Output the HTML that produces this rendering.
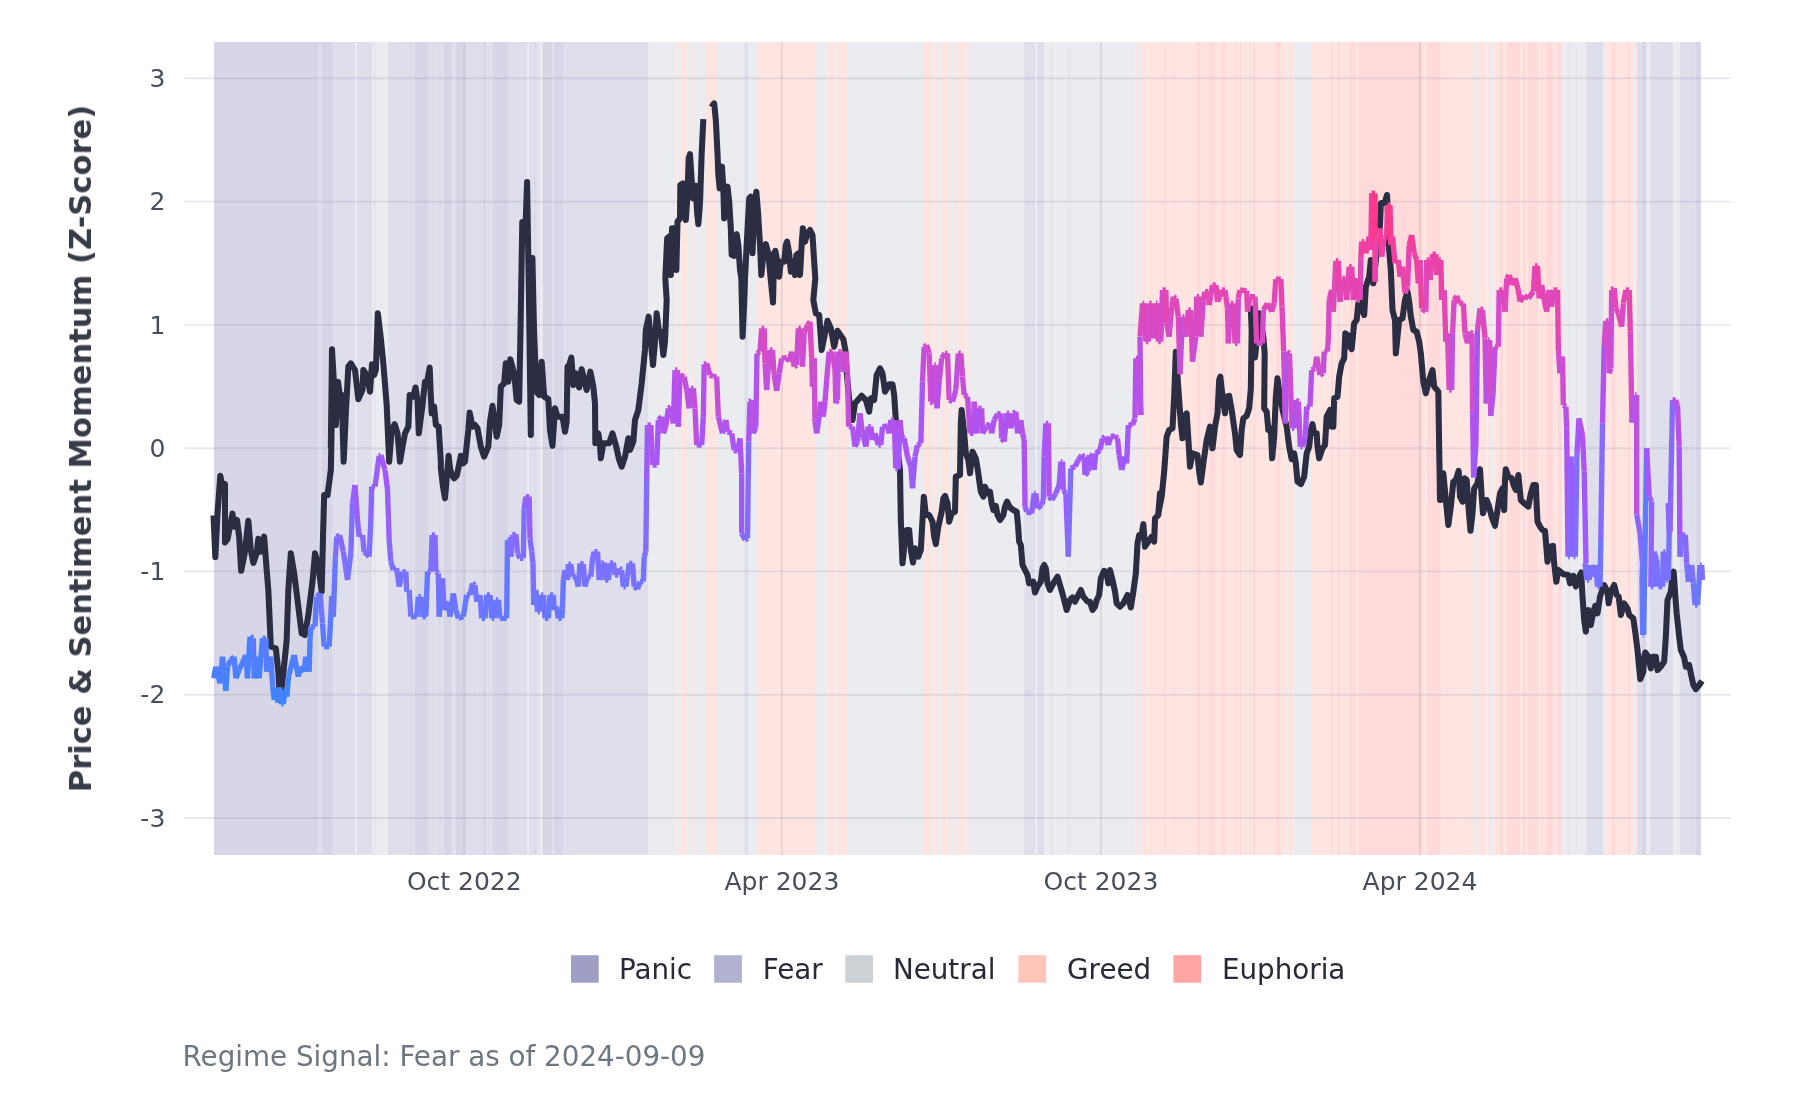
<!DOCTYPE html>
<html><head><meta charset="utf-8"><title>Regime Signal</title>
<style>html,body{margin:0;padding:0;background:#fff}svg{display:block}text{font-family:"DejaVu Sans","Liberation Sans",sans-serif}</style></head><body>
<svg width="1800" height="1100" viewBox="0 0 1800 1100">
<rect width="1800" height="1100" fill="#ffffff"/>
<g>
<rect x="214" y="42" width="104" height="813" fill="#d7d6e6"/>
<rect x="318" y="42" width="4" height="813" fill="#dfdfec"/>
<rect x="322" y="42" width="10" height="813" fill="#d7d6e6"/>
<rect x="332" y="42" width="1.33" height="813" fill="#dfdfec"/>
<rect x="333.33" y="42" width="2" height="813" fill="#d7d6e6"/>
<rect x="335.33" y="42" width="19.67" height="813" fill="#dfdfec"/>
<rect x="355" y="42" width="1.67" height="813" fill="#ebecef"/>
<rect x="356.67" y="42" width="15.33" height="813" fill="#dfdfec"/>
<rect x="372" y="42" width="2" height="813" fill="#ebecef"/>
<rect x="374" y="42" width="1.67" height="813" fill="#dfdfec"/>
<rect x="375.67" y="42" width="12.33" height="813" fill="#ebecef"/>
<rect x="388" y="42" width="23" height="813" fill="#dfdfec"/>
<rect x="411" y="42" width="1.67" height="813" fill="#d7d6e6"/>
<rect x="412.67" y="42" width="2.33" height="813" fill="#dfdfec"/>
<rect x="415" y="42" width="13" height="813" fill="#d7d6e6"/>
<rect x="428" y="42" width="10.67" height="813" fill="#dfdfec"/>
<rect x="438.67" y="42" width="2.17" height="813" fill="#d7d6e6"/>
<rect x="440.83" y="42" width="2.5" height="813" fill="#dfdfec"/>
<rect x="443.33" y="42" width="9.17" height="813" fill="#d7d6e6"/>
<rect x="452.5" y="42" width="3.33" height="813" fill="#dfdfec"/>
<rect x="455.83" y="42" width="8.17" height="813" fill="#d7d6e6"/>
<rect x="464" y="42" width="6" height="813" fill="#dfdfec"/>
<rect x="470" y="42" width="1.67" height="813" fill="#d7d6e6"/>
<rect x="471.67" y="42" width="2.5" height="813" fill="#dfdfec"/>
<rect x="474.17" y="42" width="1.67" height="813" fill="#d7d6e6"/>
<rect x="475.83" y="42" width="3.33" height="813" fill="#dfdfec"/>
<rect x="479.17" y="42" width="1.67" height="813" fill="#d7d6e6"/>
<rect x="480.83" y="42" width="2" height="813" fill="#dfdfec"/>
<rect x="482.83" y="42" width="1.33" height="813" fill="#d7d6e6"/>
<rect x="484.17" y="42" width="-0.83" height="813" fill="#dfdfec"/>
<rect x="483.33" y="42" width="3.33" height="813" fill="#d7d6e6"/>
<rect x="486.67" y="42" width="6.33" height="813" fill="#dfdfec"/>
<rect x="493" y="42" width="15" height="813" fill="#d7d6e6"/>
<rect x="508" y="42" width="19" height="813" fill="#dfdfec"/>
<rect x="527" y="42" width="1.67" height="813" fill="#ebecef"/>
<rect x="528.67" y="42" width="5" height="813" fill="#dfdfec"/>
<rect x="533.67" y="42" width="2.17" height="813" fill="#d7d6e6"/>
<rect x="535.83" y="42" width="1.67" height="813" fill="#dfdfec"/>
<rect x="537.5" y="42" width="1" height="813" fill="#d7d6e6"/>
<rect x="538.5" y="42" width="1.83" height="813" fill="#dfdfec"/>
<rect x="540.33" y="42" width="2.17" height="813" fill="#ebecef"/>
<rect x="542.5" y="42" width="9.5" height="813" fill="#d7d6e6"/>
<rect x="552" y="42" width="1.67" height="813" fill="#dfdfec"/>
<rect x="553.67" y="42" width="10.17" height="813" fill="#d7d6e6"/>
<rect x="563.83" y="42" width="84.17" height="813" fill="#dfdfec"/>
<rect x="648" y="42" width="27.83" height="813" fill="#ebecef"/>
<rect x="675.83" y="42" width="1.67" height="813" fill="#ffe5e2"/>
<rect x="677.5" y="42" width="3.33" height="813" fill="#ebecef"/>
<rect x="680.83" y="42" width="7.17" height="813" fill="#ffe5e2"/>
<rect x="688" y="42" width="3" height="813" fill="#ebecef"/>
<rect x="691" y="42" width="2" height="813" fill="#ffe5e2"/>
<rect x="693" y="42" width="12" height="813" fill="#ebecef"/>
<rect x="705" y="42" width="13" height="813" fill="#ffe5e2"/>
<rect x="718" y="42" width="26.17" height="813" fill="#ebecef"/>
<rect x="744.17" y="42" width="4.5" height="813" fill="#dfdfec"/>
<rect x="748.67" y="42" width="9.33" height="813" fill="#ebecef"/>
<rect x="758" y="42" width="57" height="813" fill="#ffe5e2"/>
<rect x="815" y="42" width="11.67" height="813" fill="#ebecef"/>
<rect x="826.67" y="42" width="9.17" height="813" fill="#ffe5e2"/>
<rect x="835.83" y="42" width="2.17" height="813" fill="#ebecef"/>
<rect x="838" y="42" width="10" height="813" fill="#ffe5e2"/>
<rect x="848" y="42" width="75" height="813" fill="#ebecef"/>
<rect x="923" y="42" width="9" height="813" fill="#ffe5e2"/>
<rect x="932" y="42" width="2.17" height="813" fill="#ebecef"/>
<rect x="934.17" y="42" width="2.83" height="813" fill="#ffe5e2"/>
<rect x="937" y="42" width="3.83" height="813" fill="#ebecef"/>
<rect x="940.83" y="42" width="8.33" height="813" fill="#ffe5e2"/>
<rect x="949.17" y="42" width="4.17" height="813" fill="#ebecef"/>
<rect x="953.33" y="42" width="1.67" height="813" fill="#ffe5e2"/>
<rect x="955" y="42" width="3" height="813" fill="#ebecef"/>
<rect x="958" y="42" width="7.33" height="813" fill="#ffe5e2"/>
<rect x="965.33" y="42" width="1.67" height="813" fill="#ebecef"/>
<rect x="967" y="42" width="2" height="813" fill="#ffe5e2"/>
<rect x="969" y="42" width="55.17" height="813" fill="#ebecef"/>
<rect x="1024.17" y="42" width="10.83" height="813" fill="#dfdfec"/>
<rect x="1035" y="42" width="2.17" height="813" fill="#ebecef"/>
<rect x="1037.17" y="42" width="7.5" height="813" fill="#dfdfec"/>
<rect x="1044.67" y="42" width="6" height="813" fill="#ebecef"/>
<rect x="1050.67" y="42" width="1.33" height="813" fill="#dfdfec"/>
<rect x="1052" y="42" width="16.5" height="813" fill="#ebecef"/>
<rect x="1068.5" y="42" width="1.33" height="813" fill="#dfdfec"/>
<rect x="1069.83" y="42" width="66" height="813" fill="#ebecef"/>
<rect x="1135.83" y="42" width="2.17" height="813" fill="#ffe5e2"/>
<rect x="1138" y="42" width="3" height="813" fill="#ebecef"/>
<rect x="1141" y="42" width="23.17" height="813" fill="#ffe5e2"/>
<rect x="1164.17" y="42" width="1.83" height="813" fill="#ffdadb"/>
<rect x="1166" y="42" width="7.83" height="813" fill="#ffe5e2"/>
<rect x="1173.83" y="42" width="1.5" height="813" fill="#ffdadb"/>
<rect x="1175.33" y="42" width="21.67" height="813" fill="#ffe5e2"/>
<rect x="1197" y="42" width="3.83" height="813" fill="#ffdadb"/>
<rect x="1200.83" y="42" width="5" height="813" fill="#ffe5e2"/>
<rect x="1205.83" y="42" width="1.17" height="813" fill="#ffdadb"/>
<rect x="1207" y="42" width="1.33" height="813" fill="#ffe5e2"/>
<rect x="1208.33" y="42" width="7.5" height="813" fill="#ffdadb"/>
<rect x="1215.83" y="42" width="6.17" height="813" fill="#ffe5e2"/>
<rect x="1222" y="42" width="4.67" height="813" fill="#ffdadb"/>
<rect x="1226.67" y="42" width="8.33" height="813" fill="#ffe5e2"/>
<rect x="1235" y="42" width="2.5" height="813" fill="#ffdadb"/>
<rect x="1237.5" y="42" width="2.5" height="813" fill="#ffe5e2"/>
<rect x="1240" y="42" width="2.5" height="813" fill="#ffdadb"/>
<rect x="1242.5" y="42" width="2.17" height="813" fill="#ffe5e2"/>
<rect x="1244.67" y="42" width="2" height="813" fill="#ffdadb"/>
<rect x="1246.67" y="42" width="2" height="813" fill="#ffe5e2"/>
<rect x="1248.67" y="42" width="2.17" height="813" fill="#ffdadb"/>
<rect x="1250.83" y="42" width="2.17" height="813" fill="#ffe5e2"/>
<rect x="1253" y="42" width="2.83" height="813" fill="#ffdadb"/>
<rect x="1255.83" y="42" width="20" height="813" fill="#ffe5e2"/>
<rect x="1275.83" y="42" width="5" height="813" fill="#ffdadb"/>
<rect x="1280.83" y="42" width="5" height="813" fill="#ffe5e2"/>
<rect x="1285.83" y="42" width="2.17" height="813" fill="#ebecef"/>
<rect x="1288" y="42" width="5.33" height="813" fill="#ffe5e2"/>
<rect x="1293.33" y="42" width="18.67" height="813" fill="#ebecef"/>
<rect x="1312" y="42" width="18.83" height="813" fill="#ffe5e2"/>
<rect x="1330.83" y="42" width="2.5" height="813" fill="#ffdadb"/>
<rect x="1333.33" y="42" width="3.33" height="813" fill="#ffe5e2"/>
<rect x="1336.67" y="42" width="3.33" height="813" fill="#ffdadb"/>
<rect x="1340" y="42" width="5" height="813" fill="#ffe5e2"/>
<rect x="1345" y="42" width="1.67" height="813" fill="#ffdadb"/>
<rect x="1346.67" y="42" width="2.5" height="813" fill="#ffe5e2"/>
<rect x="1349.17" y="42" width="6.67" height="813" fill="#ffdadb"/>
<rect x="1355.83" y="42" width="2.5" height="813" fill="#ffe5e2"/>
<rect x="1358.33" y="42" width="65" height="813" fill="#ffdadb"/>
<rect x="1423.33" y="42" width="3.33" height="813" fill="#ffe5e2"/>
<rect x="1426.67" y="42" width="14.17" height="813" fill="#ffdadb"/>
<rect x="1440.83" y="42" width="16.67" height="813" fill="#ffe5e2"/>
<rect x="1457.5" y="42" width="1.17" height="813" fill="#ffdadb"/>
<rect x="1458.67" y="42" width="14.33" height="813" fill="#ffe5e2"/>
<rect x="1473" y="42" width="5" height="813" fill="#ebecef"/>
<rect x="1478" y="42" width="8.67" height="813" fill="#ffe5e2"/>
<rect x="1486.67" y="42" width="0.83" height="813" fill="#ebecef"/>
<rect x="1487.5" y="42" width="2.5" height="813" fill="#ffe5e2"/>
<rect x="1490" y="42" width="3.67" height="813" fill="#ebecef"/>
<rect x="1493.67" y="42" width="6.33" height="813" fill="#ffe5e2"/>
<rect x="1500" y="42" width="3.33" height="813" fill="#ffdadb"/>
<rect x="1503.33" y="42" width="3.67" height="813" fill="#ffe5e2"/>
<rect x="1507" y="42" width="13" height="813" fill="#ffdadb"/>
<rect x="1520" y="42" width="3" height="813" fill="#ffe5e2"/>
<rect x="1523" y="42" width="3.67" height="813" fill="#ffdadb"/>
<rect x="1526.67" y="42" width="1.33" height="813" fill="#ffe5e2"/>
<rect x="1528" y="42" width="10.67" height="813" fill="#ffdadb"/>
<rect x="1538.67" y="42" width="2.67" height="813" fill="#ffe5e2"/>
<rect x="1541.33" y="42" width="2.33" height="813" fill="#ffdadb"/>
<rect x="1543.67" y="42" width="2.17" height="813" fill="#ffe5e2"/>
<rect x="1545.83" y="42" width="7.5" height="813" fill="#ffdadb"/>
<rect x="1553.33" y="42" width="4.17" height="813" fill="#ffe5e2"/>
<rect x="1557.5" y="42" width="5" height="813" fill="#ffdadb"/>
<rect x="1562.5" y="42" width="6.33" height="813" fill="#ebecef"/>
<rect x="1568.83" y="42" width="1.33" height="813" fill="#dfdfec"/>
<rect x="1570.17" y="42" width="5.33" height="813" fill="#ebecef"/>
<rect x="1575.5" y="42" width="1.33" height="813" fill="#dfdfec"/>
<rect x="1576.83" y="42" width="9.33" height="813" fill="#ebecef"/>
<rect x="1586.17" y="42" width="16.83" height="813" fill="#dfdfec"/>
<rect x="1603" y="42" width="2" height="813" fill="#ebecef"/>
<rect x="1605" y="42" width="6.33" height="813" fill="#ffe5e2"/>
<rect x="1611.33" y="42" width="4.5" height="813" fill="#ffdadb"/>
<rect x="1615.83" y="42" width="12.17" height="813" fill="#ffe5e2"/>
<rect x="1628" y="42" width="2" height="813" fill="#ffdadb"/>
<rect x="1630" y="42" width="3" height="813" fill="#ffe5e2"/>
<rect x="1633" y="42" width="2" height="813" fill="#ebecef"/>
<rect x="1635" y="42" width="2" height="813" fill="#ffe5e2"/>
<rect x="1637" y="42" width="4.67" height="813" fill="#dfdfec"/>
<rect x="1641.67" y="42" width="5" height="813" fill="#d7d6e6"/>
<rect x="1646.67" y="42" width="3" height="813" fill="#ebecef"/>
<rect x="1649.67" y="42" width="23.33" height="813" fill="#dfdfec"/>
<rect x="1673" y="42" width="7" height="813" fill="#ebecef"/>
<rect x="1680" y="42" width="15.83" height="813" fill="#dfdfec"/>
<rect x="1695.83" y="42" width="5" height="813" fill="#d7d6e6"/>
</g>
<g stroke="#717c92" stroke-opacity="0.165" stroke-width="1.9">
<line x1="184.2" x2="1730.8" y1="78.3" y2="78.3"/>
<line x1="184.2" x2="1730.8" y1="201.6" y2="201.6"/>
<line x1="184.2" x2="1730.8" y1="324.9" y2="324.9"/>
<line x1="184.2" x2="1730.8" y1="448.2" y2="448.2"/>
<line x1="184.2" x2="1730.8" y1="571.4" y2="571.4"/>
<line x1="184.2" x2="1730.8" y1="694.7" y2="694.7"/>
<line x1="184.2" x2="1730.8" y1="818" y2="818"/>
<line x1="464.5" x2="464.5" y1="42" y2="855"/>
<line x1="781.9" x2="781.9" y1="42" y2="855"/>
<line x1="1100.9" x2="1100.9" y1="42" y2="855"/>
<line x1="1420" x2="1420" y1="42" y2="855"/>
</g>
<polyline fill="none" stroke="#2b2d42" stroke-width="6.05" stroke-linejoin="round" stroke-linecap="butt" points="213.5,515.33 215.33,557 217.5,513.33 220.33,475.83 222.5,486.67 225,484.17 225,542.5 227.5,539.17 232.5,513.67 234.17,526.67 237,520 239.17,536.67 241.17,570.83 244.67,553.33 248.33,520.83 250.83,550 253.33,563 256.67,553.33 258.33,538.67 260.83,551.67 264.17,536.67 266.67,570 268.33,590 270.83,646.67 275.83,648.33 278.33,671.67 280,700 283.33,673.33 286.67,640 288.33,590 290.83,553.33 294.17,573.33 298.33,606.67 301.67,633.33 305,635 308.33,615 312.5,581.67 315,553.33 318.33,565 321.67,591.67 323,536.67 324.17,495 327.5,495 330.83,470 331.67,425 330.83,446.67 332,349.17 334.17,386.67 335.83,425 338,381.67 340,396.67 341.67,395 343.67,461.67 345.83,413.33 348.33,366.67 350.83,363.33 355,370 358.33,399.17 362.5,390 363.33,370 366.67,375 370,391.67 372,364.17 374.17,375 375.83,370 377.83,313.33 380.83,338.33 383.33,363.33 386.67,405 389.17,461.67 391.67,430 394.67,424.17 397.5,433.33 400,461.67 402.5,446.67 405,433.33 408.33,426.67 409.67,395 413.33,396.67 415.5,387.5 417.5,400 418.83,433.33 422.5,405 425,381.67 427.5,380 429.67,367.5 430.83,396.67 431.67,413.33 434.17,406.67 435.83,425 438.67,426.67 440.83,461.67 440.83,468.33 443,486.67 445,498.33 446.67,478.33 448.67,455.83 450,468.33 451.67,475 454.17,478.33 456.67,475.83 458.67,466.67 460.83,455.83 463,463.33 465,461.67 466.67,445 468.33,430 469.67,412.5 472.5,426.67 475,425 477.5,428.33 480.83,446.67 484.17,456.67 488.33,446.67 490,421.67 492.5,405.83 495,423.33 496.67,436.67 499.17,425 500.83,386.67 504.17,383.33 505.83,363.33 508.33,381.67 510.33,359.17 514.17,373.33 516.67,400 519.17,401.67 520.5,330 522.3,222 525.6,224 527.1,182 529,300 530.8,435 532.4,258 534,330 536.5,392 539.17,395 541.67,361.67 544.17,396.67 548.33,399.17 550,430 552.5,445.83 555,408.33 557.5,416.67 562.5,416.67 565,431.67 566.67,421.67 567.5,366.67 569.17,365 571.33,357.5 573.33,385 575.83,373.33 579.17,387.5 581.67,369.17 586.67,390 590.33,371.67 593.33,386.67 595,403.33 595.33,443.33 598.33,433.33 600,445 600.83,458.33 603.33,443.33 609.17,443.33 612.5,433.33 615.83,445 619.17,460 621.67,466.67 625,456.67 628.33,438.33 630,450 633.33,441.67 635,420 638.33,410 641.67,383.33 645,350 645.83,330 648.67,316.67 650.83,341.67 653,365 655,341.67 656.67,313.33 659.17,333.33 660.83,331.67 663.33,355 665,341.67 666.67,300 665.33,278.33 667.17,238.33 669.17,236.67 670.83,275 672,228.33 674.67,228.33 676.33,270 677.5,221.67 680,218.33 680.33,185 683,183.33 685.83,220 687.5,195 688.67,158.33 690,154.17 692,185 693.33,198.33 695.83,185.83 697,211.67 698.33,224.17 700,203.33 701.67,153.33 703.33,119.17"/>
<polyline fill="none" stroke="#2b2d42" stroke-width="6.05" stroke-linejoin="round" stroke-linecap="butt" points="711.33,107 714.17,103.33 715.83,120 717.5,153.33 718.33,175 719.67,188.33 720.83,168.33 722,166.67 723.33,188.33 724.17,218.33 725.83,188.33 727.5,186.67 729.17,201.67 730.83,228.33 731.67,255 734.17,255.83 735,236.67 736.67,234.17 738.33,245 740,270 741.33,278.33 741.8,300 742.6,336.7 744.3,300 745,278.33 746.67,245 749.17,198.33 750.83,196.67 752.5,253.33 754.17,211.67 756.33,191.67 758,211.67 760,245 761.33,275 763.33,255 765.83,244.17 768.33,253.33 770,271.67 773,302.5 774.17,253.33 775.33,250.83 777.5,261.67 779.17,276.67 780.83,261.67 784.17,261.67 785.83,245 787.17,241.67 789.17,253.33 790.83,271.67 793.33,261.67 795,275 796.33,255 798.33,253.33 800,275 801.67,245 802.83,228.33 805,241.67 807.5,233.33 810,230 812.5,235 814.17,261.67 815.33,278.33 813.33,300 815.83,313.33 819.17,315 821.67,350 825,333.33 827.5,320.83 830.83,328.33 834.17,346.67 837.5,330.83 843.33,339.17 845.33,350 846.67,371.67 849.17,400 852.5,420 855,403.33 861.67,395.83 865.83,400 869.17,411.67 870.83,398.33 874.17,400 876.67,375 880,368.33 882.5,373.33 885,391.67 889.17,384.17 892.5,384.17 894.17,395 895.83,420 898.33,456.67 900,470 900.83,520 902.5,563.33 905,540 906.67,530 909.17,530 910.83,550 913,562.5 915,548.33 918.33,556.67 920.83,550 922.5,520 923.83,496.67 925.83,515 929.17,515 932.5,521.67 934.17,536.67 935.83,544.17 938.33,526.67 941.67,511.67 943.33,498.33 945,495.83 947.5,503.33 949.17,521.67 951.67,513.33 955,511.67 955.83,476.67 960,475 960.83,423.33 961.67,410 964.17,433.33 965.83,453.33 968.33,460 970,473.33 972.5,451.67 975.83,458.33 978.33,473.33 979.17,480 980.83,491.67 983.33,496.67 985,486.67 987.5,493.33 990,491.67 991.67,503.33 993.33,510 995.83,505.83 997.5,515 1000,520 1003.33,515 1005,506.67 1007,501.67 1010,507.5 1013.33,510 1016.67,511.67 1018,525 1019.17,541.67 1020.83,545 1022.5,565 1025,570 1027.5,575 1029.17,583.33 1033.33,581.67 1035,592.5 1037.5,586.67 1040.83,581.67 1042.5,568.33 1044.17,565 1045.83,568.33 1047.5,583.33 1050,590 1053.33,583.33 1057.5,576.67 1060,585 1063.33,596.67 1066.67,610 1070,600 1072.5,597.5 1075,601.67 1077.5,596.67 1080.83,590 1083.33,596.67 1087.5,601.67 1090,601.67 1092.5,610 1095,606.67 1096.67,600 1099.17,595 1100.83,578.33 1104.17,570.83 1106.67,573.33 1108.33,583.33 1110,570 1112.5,580 1115,591.67 1116.67,603.33 1120,606.67 1123.33,603.33 1127.5,595 1130.83,607.5 1133.33,591.67 1135.83,573.33 1137.5,543.33 1139.17,535 1141.67,535 1143.33,524.17 1145,546.67 1148.33,541.67 1151.67,536.67 1154.17,541.67 1155,518.33 1158.33,515 1160,493.33 1158.33,513.33 1161.67,496.67 1164.17,471.67 1166.67,436.67 1169.17,430 1172.5,428.33 1174.17,396.67 1175.83,351.67 1178.33,388.33 1180.83,423.33 1182.5,438.33 1184.17,416.67 1186.67,413.33 1188.33,438.33 1190,466.67 1192.5,453.33 1197.5,455 1199.17,471.67 1200.83,482.5 1203.33,463.33 1206.67,440 1210,426.67 1212.5,448.33 1215,426.67 1217.5,413.33 1219.17,380 1220.33,376.67 1222.5,396.67 1225,413.33 1226.67,396.67 1229.17,395.83 1231.67,410 1235,433.33 1236.67,450 1240,455 1241.67,430 1243.33,418.33 1246.67,415.83 1249.17,408.33 1250.83,388.33 1251.67,330 1250.83,308.33 1253,336.67 1255,357.5 1257.5,333.33 1259.17,313.33 1263.33,336.67 1264.67,353.33 1264.17,408.33 1266.67,411.67 1268.33,430 1270.83,428.33 1272.17,458.33 1274.17,436.67 1275.83,396.67 1277.5,378.33 1280,396.67 1283.33,413.33 1286.67,426.67 1289.17,446.67 1291.67,459.17 1294.17,453.33 1295.83,463.33 1297.5,481.67 1300.83,484.17 1304.17,476.67 1306.67,453.33 1309.17,446.67 1310.83,430 1312.5,424.17 1314.17,433.33 1316.67,433.33 1317.5,446.67 1319.17,458.33 1322.5,448.33 1325,445 1326.67,416.67 1330,410 1331.67,426.67 1333.33,426.67 1334.17,398.33 1337.5,396.67 1339.17,376.67 1341.67,363.33 1344.17,358.33 1345.33,333.33 1347.5,335 1349.17,345 1351.67,349.17 1354.17,323.33 1356.67,320 1358.33,303.33 1360,301.67 1364.17,315 1365.83,286.67 1369.17,276.67 1370.83,260 1373.33,283.33 1376.67,253.33 1380,225 1380.83,203.33 1385,201.67 1387,195 1388.33,220 1389.17,250 1390.83,270 1392.5,310 1395,320 1395.83,353.33 1399.17,320 1402.5,318.33 1405,300 1407.5,291.67 1409.17,301.67 1410.83,316.67 1413.33,330 1416.67,331.67 1419.17,341.67 1420.83,353.33 1423.33,381.67 1425.83,393.33 1429.17,380 1432.5,370 1434.17,386.67 1438.33,391.67 1439.17,446.67 1440,500 1440.83,500 1443.33,473.33 1445.83,500 1448.33,525 1450.83,506.67 1453.33,481.67 1455.83,480 1458.67,470.83 1460,496.67 1462.5,501.67 1464.67,478.33 1466.67,480 1468.33,505 1470.5,530.83 1472.5,513.33 1474.17,488.33 1477.5,483.33 1480,469.17 1481.67,496.67 1483,513.33 1486.67,500 1489.17,506.67 1491.67,516.67 1495,525.83 1497.5,510 1500,493.33 1502.5,488.33 1504.17,510 1505,480 1505.83,469.17 1508.33,476.67 1511.67,478.33 1514.17,486.67 1515.83,490 1518.33,475 1520.83,500 1524.17,503.33 1528.33,506.67 1530.83,493.33 1533.33,485 1535.83,485 1536.67,505 1537.5,521.67 1540,526.67 1542.5,530 1545,530.83 1546.33,546.67 1547.5,561.67 1550,546.67 1553,545.83 1554.17,563.33 1556.33,581.67 1558.33,570 1563.33,574.17 1568.33,575 1570,583.33 1573.33,575.83 1575.83,586.67 1578.33,578.33 1581.17,572.5 1582.5,596.67 1584.17,620 1585.83,631.67 1588.33,610 1590.83,625 1593.33,611.67 1595.33,605.83 1597.5,613.33 1600,596.67 1601.67,591.67 1604.17,585 1607.5,591.67 1608.67,603.33 1610.83,591.67 1614.17,585 1616.67,595 1618.67,596.67 1620.83,615 1624.17,603.33 1627.5,608.33 1629.17,615 1633.33,618.33 1635.83,636.67 1637.5,650 1639.17,668.33 1640.33,679.17 1643.33,671.67 1644.17,656.67 1645.33,652.5 1648.33,656.67 1650.83,668.33 1652.5,656.67 1655.83,656.67 1657.5,670 1660.83,666.67 1664.17,661.67 1665.83,636.67 1667.5,600 1670.83,591.67 1672.5,576.67 1673.67,571.67 1675,591.67 1676.67,613.33 1679.17,636.67 1680.83,650 1684.17,657.5 1685.83,666.67 1689.17,665 1690.83,673.33 1693.33,685 1695.83,689.17 1699.17,685 1702,680.83"/>
<g fill="none" stroke-width="5.35" stroke-linecap="butt">
<path d="M213.67 678.33L215.83 666.67" stroke="#4881ff"/>
<path d="M215.83 666.67L220 683.33" stroke="#4e7fff"/>
<path d="M220 683.33L222.5 656.67" stroke="#4682ff"/>
<path d="M222.5 656.67L225.83 690.83" stroke="#537eff"/>
<path d="M225.83 690.83L227.5 666.67" stroke="#4383ff"/>
<path d="M227.5 666.67L230.83 660" stroke="#4e7fff"/>
<path d="M230.83 660L234.17 656.67" stroke="#517eff"/>
<path d="M234.17 656.67L235.83 678.33" stroke="#537eff"/>
<path d="M235.83 678.33L239.17 670" stroke="#4881ff"/>
<path d="M239.17 670L245.83 655" stroke="#4c80ff"/>
<path d="M245.83 655L247.5 678.33" stroke="#537eff"/>
<path d="M247.5 678.33L250 636.67" stroke="#4881ff"/>
<path d="M250 636.67L253.33 638.33" stroke="#5c7bff"/>
<path d="M253.33 638.33L254.17 678.33" stroke="#5b7bff"/>
<path d="M254.17 678.33L257.5 656.67" stroke="#4881ff"/>
<path d="M257.5 656.67L259.17 678.33" stroke="#537eff"/>
<path d="M259.17 678.33L262.5 638.33" stroke="#4881ff"/>
<path d="M262.5 638.33L265.83 638.33" stroke="#5b7bff"/>
<path d="M265.83 638.33L266.67 671.67" stroke="#5b7bff"/>
<path d="M266.67 671.67L270.83 656.67" stroke="#4c80ff"/>
<path d="M270.83 656.67L272.67 686.67" stroke="#537eff"/>
<path d="M272.67 686.67L274.33 700" stroke="#4582ff"/>
<path d="M274.33 700L276.17 688.33" stroke="#3e84ff"/>
<path d="M276.17 688.33L277.83 702.5" stroke="#4482ff"/>
<path d="M277.83 702.5L279.67 687.5" stroke="#3e84ff"/>
<path d="M279.67 687.5L281.5 704.17" stroke="#4482ff"/>
<path d="M281.5 704.17L283.33 704.17" stroke="#3e84ff"/>
<path d="M283.33 704.17L285 690" stroke="#3e84ff"/>
<path d="M285 690L286.83 696.67" stroke="#4382ff"/>
<path d="M286.83 696.67L288.5 676.67" stroke="#4083ff"/>
<path d="M288.5 676.67L294.17 655" stroke="#4981ff"/>
<path d="M294.17 655L298.33 676.67" stroke="#537eff"/>
<path d="M298.33 676.67L300 666.67" stroke="#4981ff"/>
<path d="M300 666.67L304.17 671.67" stroke="#4e7fff"/>
<path d="M304.17 671.67L305.83 656.67" stroke="#4c80ff"/>
<path d="M305.83 656.67L309.17 671.67" stroke="#537eff"/>
<path d="M309.17 671.67L310 640" stroke="#4c80ff"/>
<path d="M310 640L310.83 626.67" stroke="#5a7cff"/>
<path d="M310.83 626.67L315 626.67" stroke="#607aff"/>
<path d="M315 626.67L316.67 596.67" stroke="#607aff"/>
<path d="M316.67 596.67L320 593.33" stroke="#6e75ff"/>
<path d="M320 593.33L322.5 623.33" stroke="#7075ff"/>
<path d="M322.5 623.33L324.17 646.67" stroke="#6279ff"/>
<path d="M324.17 646.67L329.17 646.67" stroke="#577cff"/>
<path d="M329.17 646.67L330.83 615" stroke="#577cff"/>
<path d="M330.83 615L331.67 595.83" stroke="#6678ff"/>
<path d="M331.67 595.83L333.33 616.67" stroke="#6f75ff"/>
<path d="M333.33 616.67L335.33 558.33" stroke="#6578ff"/>
<path d="M335.33 558.33L336.67 536.67" stroke="#7f6ffe"/>
<path d="M336.67 536.67L339.67 535" stroke="#876afd"/>
<path d="M339.67 535L343.33 551.67" stroke="#8869fd"/>
<path d="M343.33 551.67L347.5 580" stroke="#816dfe"/>
<path d="M347.5 580L350.83 553.33" stroke="#7673ff"/>
<path d="M350.83 553.33L352.5 503.33" stroke="#816efe"/>
<path d="M352.5 503.33L355 485" stroke="#9362fb"/>
<path d="M355 485L357.5 520" stroke="#9a5ef9"/>
<path d="M357.5 520L359.17 536.67" stroke="#8d66fc"/>
<path d="M359.17 536.67L362.5 535" stroke="#876afd"/>
<path d="M362.5 535L364.17 551.67" stroke="#8869fd"/>
<path d="M364.17 551.67L369.17 556.67" stroke="#816dfe"/>
<path d="M369.17 556.67L370.83 520" stroke="#806ffe"/>
<path d="M370.83 520L371.67 486.67" stroke="#8d66fc"/>
<path d="M371.67 486.67L375 486.67" stroke="#9a5ef9"/>
<path d="M375 486.67L379.17 455.83" stroke="#9a5ef9"/>
<path d="M379.17 455.83L380.83 455" stroke="#a557f7"/>
<path d="M380.83 455L385 470" stroke="#a557f7"/>
<path d="M385 470L387.5 490" stroke="#a05af8"/>
<path d="M387.5 490L389.17 540" stroke="#985ffa"/>
<path d="M389.17 540L390.83 561.67" stroke="#866bfd"/>
<path d="M390.83 561.67L393.33 570" stroke="#7e70fe"/>
<path d="M393.33 570L396.67 568.33" stroke="#7b72ff"/>
<path d="M396.67 568.33L399.17 586.67" stroke="#7b71ff"/>
<path d="M399.17 586.67L402.5 571.67" stroke="#7374ff"/>
<path d="M402.5 571.67L405.83 571.67" stroke="#7a72ff"/>
<path d="M405.83 571.67L406.67 591.67" stroke="#7a72ff"/>
<path d="M406.67 591.67L409.17 590" stroke="#7175ff"/>
<path d="M409.17 590L410.83 616.67" stroke="#7175ff"/>
<path d="M410.83 616.67L416.67 616.67" stroke="#6578ff"/>
<path d="M416.67 616.67L418.33 596.67" stroke="#6578ff"/>
<path d="M418.33 596.67L420.83 596.67" stroke="#6e75ff"/>
<path d="M420.83 596.67L422.5 616.67" stroke="#6e75ff"/>
<path d="M422.5 616.67L425.83 616.67" stroke="#6578ff"/>
<path d="M425.83 616.67L427.5 571.67" stroke="#6578ff"/>
<path d="M427.5 571.67L430.83 571.67" stroke="#7a72ff"/>
<path d="M430.83 571.67L432 535" stroke="#7a72ff"/>
<path d="M432 535L435 535" stroke="#8869fd"/>
<path d="M435 535L435.83 571.67" stroke="#8869fd"/>
<path d="M435.83 571.67L438.33 573.33" stroke="#7a72ff"/>
<path d="M438.33 573.33L439.17 616.67" stroke="#7972ff"/>
<path d="M439.17 616.67L442.5 578.33" stroke="#6578ff"/>
<path d="M442.5 578.33L444.17 610" stroke="#7773ff"/>
<path d="M444.17 610L448.33 601.67" stroke="#6877ff"/>
<path d="M448.33 601.67L450 616.67" stroke="#6c76ff"/>
<path d="M450 616.67L453.33 593.33" stroke="#6578ff"/>
<path d="M453.33 593.33L455.83 610" stroke="#7075ff"/>
<path d="M455.83 610L458.33 618.33" stroke="#6877ff"/>
<path d="M458.33 618.33L463.33 616.67" stroke="#6479ff"/>
<path d="M463.33 616.67L466.67 595" stroke="#6578ff"/>
<path d="M466.67 595L470 595" stroke="#6f75ff"/>
<path d="M470 595L472.5 583.33" stroke="#6f75ff"/>
<path d="M472.5 583.33L475 585" stroke="#7574ff"/>
<path d="M475 585L476.67 601.67" stroke="#7474ff"/>
<path d="M476.67 601.67L480 595" stroke="#6c76ff"/>
<path d="M480 595L481.67 618.33" stroke="#6f75ff"/>
<path d="M481.67 618.33L485 618.33" stroke="#6479ff"/>
<path d="M485 618.33L486.67 595" stroke="#6479ff"/>
<path d="M486.67 595L490 595" stroke="#6f75ff"/>
<path d="M490 595L491.67 618.33" stroke="#6f75ff"/>
<path d="M491.67 618.33L494.17 618.33" stroke="#6479ff"/>
<path d="M494.17 618.33L495.83 600" stroke="#6479ff"/>
<path d="M495.83 600L498.33 600" stroke="#6d76ff"/>
<path d="M498.33 600L500 618.33" stroke="#6d76ff"/>
<path d="M500 618.33L506.67 618.33" stroke="#6479ff"/>
<path d="M506.67 618.33L507.5 540" stroke="#6479ff"/>
<path d="M507.5 540L510 540" stroke="#866bfd"/>
<path d="M510 540L510.83 556.67" stroke="#866bfd"/>
<path d="M510.83 556.67L512.5 535" stroke="#806ffe"/>
<path d="M512.5 535L515.83 534.17" stroke="#8869fd"/>
<path d="M515.83 534.17L517.5 553.33" stroke="#8869fd"/>
<path d="M517.5 553.33L520 558.33" stroke="#816efe"/>
<path d="M520 558.33L523.33 558.33" stroke="#7f6ffe"/>
<path d="M523.33 558.33L524.17 508.33" stroke="#7f6ffe"/>
<path d="M524.17 508.33L525.83 496.67" stroke="#9263fb"/>
<path d="M525.83 496.67L529.17 496.67" stroke="#9660fa"/>
<path d="M529.17 496.67L530 538.33" stroke="#9660fa"/>
<path d="M530 538.33L531.67 551.67" stroke="#866afd"/>
<path d="M531.67 551.67L533 563.33" stroke="#816dfe"/>
<path d="M533 563.33L533.67 605" stroke="#7d70fe"/>
<path d="M533.67 605L535.83 590" stroke="#6a77ff"/>
<path d="M535.83 590L537.5 611.67" stroke="#7175ff"/>
<path d="M537.5 611.67L540 611.67" stroke="#6778ff"/>
<path d="M540 611.67L540.83 595" stroke="#6778ff"/>
<path d="M540.83 595L543.33 595" stroke="#6f75ff"/>
<path d="M543.33 595L545 618.33" stroke="#6f75ff"/>
<path d="M545 618.33L548.33 618.33" stroke="#6479ff"/>
<path d="M548.33 618.33L550 595" stroke="#6479ff"/>
<path d="M550 595L553.33 595" stroke="#6f75ff"/>
<path d="M553.33 595L554.17 610" stroke="#6f75ff"/>
<path d="M554.17 610L556.67 606.67" stroke="#6877ff"/>
<path d="M556.67 606.67L558.33 618.33" stroke="#6a77ff"/>
<path d="M558.33 618.33L561.67 618.33" stroke="#6479ff"/>
<path d="M561.67 618.33L562.5 608.33" stroke="#6479ff"/>
<path d="M562.5 608.33L563.33 580" stroke="#6977ff"/>
<path d="M563.33 580L565 570" stroke="#7673ff"/>
<path d="M565 570L567.5 580" stroke="#7b72ff"/>
<path d="M567.5 580L568.33 564.17" stroke="#7673ff"/>
<path d="M568.33 564.17L570.83 564.17" stroke="#7d70ff"/>
<path d="M570.83 564.17L572.5 576.67" stroke="#7d70ff"/>
<path d="M572.5 576.67L575.83 576.67" stroke="#7873ff"/>
<path d="M575.83 576.67L578.33 586.67" stroke="#7873ff"/>
<path d="M578.33 586.67L580 563.33" stroke="#7374ff"/>
<path d="M580 563.33L583.33 564.17" stroke="#7d70fe"/>
<path d="M583.33 564.17L585 586.67" stroke="#7d70ff"/>
<path d="M585 586.67L587.5 576.67" stroke="#7374ff"/>
<path d="M587.5 576.67L590.83 576.67" stroke="#7873ff"/>
<path d="M590.83 576.67L592.5 558.33" stroke="#7873ff"/>
<path d="M592.5 558.33L594.17 551.67" stroke="#7f6ffe"/>
<path d="M594.17 551.67L597.5 551.67" stroke="#816dfe"/>
<path d="M597.5 551.67L599.17 580" stroke="#816dfe"/>
<path d="M599.17 580L601.67 563.33" stroke="#7673ff"/>
<path d="M601.67 563.33L604.17 562.5" stroke="#7d70fe"/>
<path d="M604.17 562.5L605 580" stroke="#7d70fe"/>
<path d="M605 580L608.33 580" stroke="#7673ff"/>
<path d="M608.33 580L610 563.33" stroke="#7673ff"/>
<path d="M610 563.33L613.33 562.5" stroke="#7d70fe"/>
<path d="M613.33 562.5L615 575" stroke="#7d70fe"/>
<path d="M615 575L618.33 575" stroke="#7872ff"/>
<path d="M618.33 575L619.17 568.33" stroke="#7872ff"/>
<path d="M619.17 568.33L621.67 570" stroke="#7b71ff"/>
<path d="M621.67 570L623.33 586.67" stroke="#7b72ff"/>
<path d="M623.33 586.67L625.83 586.67" stroke="#7374ff"/>
<path d="M625.83 586.67L627.5 576.67" stroke="#7374ff"/>
<path d="M627.5 576.67L629.17 563.33" stroke="#7873ff"/>
<path d="M629.17 563.33L632.5 563.33" stroke="#7d70fe"/>
<path d="M632.5 563.33L634.17 586.67" stroke="#7d70fe"/>
<path d="M634.17 586.67L637.5 589.17" stroke="#7374ff"/>
<path d="M637.5 589.17L640 581.67" stroke="#7274ff"/>
<path d="M640 581.67L643.33 581.67" stroke="#7573ff"/>
<path d="M643.33 581.67L644.17 556.67" stroke="#7573ff"/>
<path d="M644.17 556.67L645.83 551.67" stroke="#806ffe"/>
<path d="M645.83 551.67L646.67 480" stroke="#816dfe"/>
<path d="M646.67 480L647.5 425" stroke="#9c5cf9"/>
<path d="M647.5 425L650.83 425" stroke="#b153ed"/>
<path d="M650.83 425L652.5 465" stroke="#b153ed"/>
<path d="M652.5 465L656.67 465" stroke="#a259f8"/>
<path d="M656.67 465L658.33 420" stroke="#a259f8"/>
<path d="M658.33 420L661.67 416.67" stroke="#b353eb"/>
<path d="M661.67 416.67L663.33 433.33" stroke="#b552ea"/>
<path d="M663.33 433.33L665.83 426.67" stroke="#ae54f1"/>
<path d="M665.83 426.67L668.33 408.33" stroke="#b153ee"/>
<path d="M668.33 408.33L670.83 406.67" stroke="#b852e7"/>
<path d="M670.83 406.67L673.33 423.33" stroke="#b952e6"/>
<path d="M673.33 423.33L675 370" stroke="#b253ed"/>
<path d="M675 370L677.5 370" stroke="#c84fd7"/>
<path d="M677.5 370L678.33 426.67" stroke="#c84fd7"/>
<path d="M678.33 426.67L680 375" stroke="#b153ee"/>
<path d="M680 375L684.17 376.67" stroke="#c64fd9"/>
<path d="M684.17 376.67L686.67 390" stroke="#c54fd9"/>
<path d="M686.67 390L689.17 408.33" stroke="#c050df"/>
<path d="M689.17 408.33L690.83 388.33" stroke="#b852e7"/>
<path d="M690.83 388.33L693.33 388.33" stroke="#c050de"/>
<path d="M693.33 388.33L695 408.33" stroke="#c050de"/>
<path d="M695 408.33L696.67 445" stroke="#b852e7"/>
<path d="M696.67 445L701.67 445" stroke="#a955f6"/>
<path d="M701.67 445L703.33 416.67" stroke="#a955f6"/>
<path d="M703.33 416.67L704.17 364.17" stroke="#b552ea"/>
<path d="M704.17 364.17L706.67 363.33" stroke="#ca4ed4"/>
<path d="M706.67 363.33L710 375" stroke="#ca4ed4"/>
<path d="M710 375L713.33 376.67" stroke="#c64fd9"/>
<path d="M713.33 376.67L716.67 376.67" stroke="#c54fd9"/>
<path d="M716.67 376.67L718.33 416.67" stroke="#c54fd9"/>
<path d="M718.33 416.67L722.5 433.33" stroke="#b552ea"/>
<path d="M722.5 433.33L725.83 420" stroke="#ae54f1"/>
<path d="M725.83 420L727.5 431.67" stroke="#b353eb"/>
<path d="M727.5 431.67L731.67 433.33" stroke="#af54f0"/>
<path d="M731.67 433.33L734.17 450" stroke="#ae54f1"/>
<path d="M734.17 450L737.5 451.67" stroke="#a755f7"/>
<path d="M737.5 451.67L740 438.33" stroke="#a756f7"/>
<path d="M740 438.33L741.67 473.33" stroke="#ac54f3"/>
<path d="M741.67 473.33L741.67 533.33" stroke="#9f5bf9"/>
<path d="M741.67 533.33L745 540" stroke="#8869fd"/>
<path d="M745 540L747.5 538.33" stroke="#866bfd"/>
<path d="M747.5 538.33L748.67 441.67" stroke="#866afd"/>
<path d="M748.67 441.67L750 401.67" stroke="#ab54f4"/>
<path d="M750 401.67L751.67 400" stroke="#bb51e4"/>
<path d="M751.67 400L753.33 433.33" stroke="#bc51e3"/>
<path d="M753.33 433.33L755.83 426.67" stroke="#ae54f1"/>
<path d="M755.83 426.67L757 353.33" stroke="#b153ee"/>
<path d="M757 353.33L760 351.67" stroke="#ce4dd0"/>
<path d="M760 351.67L761.67 328.33" stroke="#cf4dcf"/>
<path d="M761.67 328.33L764.17 328.33" stroke="#d94bc5"/>
<path d="M764.17 328.33L765 363.33" stroke="#d94bc5"/>
<path d="M765 363.33L766.67 390" stroke="#ca4ed4"/>
<path d="M766.67 390L768.33 366.67" stroke="#c050df"/>
<path d="M768.33 366.67L770 350" stroke="#c94ed5"/>
<path d="M770 350L772.5 350" stroke="#d04dce"/>
<path d="M772.5 350L774.17 375" stroke="#d04dce"/>
<path d="M774.17 375L776.67 390.83" stroke="#c64fd9"/>
<path d="M776.67 390.83L779.17 373.33" stroke="#bf50df"/>
<path d="M779.17 373.33L781.67 358.33" stroke="#c64fd8"/>
<path d="M781.67 358.33L786.67 357.5" stroke="#cc4ed2"/>
<path d="M786.67 357.5L789.17 361.67" stroke="#cd4ed1"/>
<path d="M789.17 361.67L791.67 351.67" stroke="#cb4ed3"/>
<path d="M791.67 351.67L794.17 366.67" stroke="#cf4dcf"/>
<path d="M794.17 366.67L796.67 365" stroke="#c94ed5"/>
<path d="M796.67 365L798.33 328.33" stroke="#ca4ed5"/>
<path d="M798.33 328.33L800.83 328.33" stroke="#d94bc5"/>
<path d="M800.83 328.33L802.5 366.67" stroke="#d94bc5"/>
<path d="M802.5 366.67L804.17 333.33" stroke="#c94ed5"/>
<path d="M804.17 333.33L807.5 325" stroke="#d74cc7"/>
<path d="M807.5 325L810 321.67" stroke="#da4bc4"/>
<path d="M810 321.67L811.67 358.33" stroke="#db4bc3"/>
<path d="M811.67 358.33L812.5 386.67" stroke="#cc4ed2"/>
<path d="M812.5 386.67L814.17 358.33" stroke="#c150de"/>
<path d="M814.17 358.33L815 421.67" stroke="#cc4ed2"/>
<path d="M815 421.67L816.67 433.33" stroke="#b353ec"/>
<path d="M816.67 433.33L819.17 416.67" stroke="#ae54f1"/>
<path d="M819.17 416.67L820.83 401.67" stroke="#b552ea"/>
<path d="M820.83 401.67L823.33 416.67" stroke="#bb51e4"/>
<path d="M823.33 416.67L825 401.67" stroke="#b552ea"/>
<path d="M825 401.67L826.67 380" stroke="#bb51e4"/>
<path d="M826.67 380L829.17 351.67" stroke="#c44fdb"/>
<path d="M829.17 351.67L832.5 351.67" stroke="#cf4dcf"/>
<path d="M832.5 351.67L835 370" stroke="#cf4dcf"/>
<path d="M835 370L835.83 403.33" stroke="#c84fd7"/>
<path d="M835.83 403.33L837.5 400" stroke="#ba51e4"/>
<path d="M837.5 400L838.33 351.67" stroke="#bc51e3"/>
<path d="M838.33 351.67L841.67 351.67" stroke="#cf4dcf"/>
<path d="M841.67 351.67L843.33 371.67" stroke="#cf4dcf"/>
<path d="M843.33 371.67L845.83 351.67" stroke="#c74fd7"/>
<path d="M845.83 351.67L847.5 373.33" stroke="#cf4dcf"/>
<path d="M847.5 373.33L848.67 426.67" stroke="#c64fd8"/>
<path d="M848.67 426.67L852.5 426.67" stroke="#b153ee"/>
<path d="M852.5 426.67L855 446.67" stroke="#b153ee"/>
<path d="M855 446.67L857.5 441.67" stroke="#a955f6"/>
<path d="M857.5 441.67L860 413.33" stroke="#ab54f4"/>
<path d="M860 413.33L862.5 433.33" stroke="#b652e9"/>
<path d="M862.5 433.33L865.83 446.67" stroke="#ae54f1"/>
<path d="M865.83 446.67L868.33 426.67" stroke="#a955f6"/>
<path d="M868.33 426.67L870.83 426.67" stroke="#b153ee"/>
<path d="M870.83 426.67L872.5 440" stroke="#b153ee"/>
<path d="M872.5 440L875 433.33" stroke="#ab54f4"/>
<path d="M875 433.33L878.33 445" stroke="#ae54f1"/>
<path d="M878.33 445L880.83 445" stroke="#a955f6"/>
<path d="M880.83 445L882.5 426.67" stroke="#a955f6"/>
<path d="M882.5 426.67L887.5 425.83" stroke="#b153ee"/>
<path d="M887.5 425.83L889.17 433.33" stroke="#b153ee"/>
<path d="M889.17 433.33L890.83 420" stroke="#ae54f1"/>
<path d="M890.83 420L894.17 420" stroke="#b353eb"/>
<path d="M894.17 420L895.83 468.33" stroke="#b353eb"/>
<path d="M895.83 468.33L898.33 469.17" stroke="#a05af8"/>
<path d="M898.33 469.17L900 420" stroke="#a05af8"/>
<path d="M900 420L901.67 436.67" stroke="#b353eb"/>
<path d="M901.67 436.67L904.17 438.33" stroke="#ad54f2"/>
<path d="M904.17 438.33L907.5 456.67" stroke="#ac54f3"/>
<path d="M907.5 456.67L910.83 466.67" stroke="#a557f8"/>
<path d="M910.83 466.67L912.5 488.33" stroke="#a159f8"/>
<path d="M912.5 488.33L915 456.67" stroke="#995efa"/>
<path d="M915 456.67L917.5 445" stroke="#a557f8"/>
<path d="M917.5 445L920.83 443.33" stroke="#a955f6"/>
<path d="M920.83 443.33L922.5 381.67" stroke="#aa55f5"/>
<path d="M922.5 381.67L924.17 346.67" stroke="#c350db"/>
<path d="M924.17 346.67L926.67 345" stroke="#d14dcd"/>
<path d="M926.67 345L929.17 353.33" stroke="#d24dcc"/>
<path d="M929.17 353.33L930.83 401.67" stroke="#ce4dd0"/>
<path d="M930.83 401.67L933.33 403.33" stroke="#bb51e4"/>
<path d="M933.33 403.33L934.17 365" stroke="#ba51e4"/>
<path d="M934.17 365L935.83 365" stroke="#ca4ed5"/>
<path d="M935.83 365L937 408.33" stroke="#ca4ed5"/>
<path d="M937 408.33L939.17 381.67" stroke="#b852e7"/>
<path d="M939.17 381.67L941.67 358.33" stroke="#c350db"/>
<path d="M941.67 358.33L945 353.33" stroke="#cc4ed2"/>
<path d="M945 353.33L947.5 353.33" stroke="#ce4dd0"/>
<path d="M947.5 353.33L949.17 400" stroke="#ce4dd0"/>
<path d="M949.17 400L952.5 401.67" stroke="#bc51e3"/>
<path d="M952.5 401.67L955.83 390" stroke="#bb51e4"/>
<path d="M955.83 390L958.33 353.33" stroke="#c050df"/>
<path d="M958.33 353.33L960.83 353.33" stroke="#ce4dd0"/>
<path d="M960.83 353.33L962.5 376.67" stroke="#ce4dd0"/>
<path d="M962.5 376.67L964.17 395" stroke="#c54fd9"/>
<path d="M964.17 395L967.5 396.67" stroke="#be51e1"/>
<path d="M967.5 396.67L970 433.33" stroke="#bd51e2"/>
<path d="M970 433.33L973.33 433.33" stroke="#ae54f1"/>
<path d="M973.33 433.33L974.17 401.67" stroke="#ae54f1"/>
<path d="M974.17 401.67L976.67 433.33" stroke="#bb51e4"/>
<path d="M976.67 433.33L978.33 408.33" stroke="#ae54f1"/>
<path d="M978.33 408.33L981.67 408.33" stroke="#b852e7"/>
<path d="M981.67 408.33L982.5 433.33" stroke="#b852e7"/>
<path d="M982.5 433.33L986.67 426.67" stroke="#ae54f1"/>
<path d="M986.67 426.67L990 423.33" stroke="#b153ee"/>
<path d="M990 423.33L991.67 433.33" stroke="#b253ed"/>
<path d="M991.67 433.33L994.17 420" stroke="#ae54f1"/>
<path d="M994.17 420L997.5 414.17" stroke="#b353eb"/>
<path d="M997.5 414.17L1000.83 413.33" stroke="#b652e9"/>
<path d="M1000.83 413.33L1001.67 438.33" stroke="#b652e9"/>
<path d="M1001.67 438.33L1004.17 441.67" stroke="#ac54f3"/>
<path d="M1004.17 441.67L1006.67 413.33" stroke="#ab54f4"/>
<path d="M1006.67 413.33L1009.17 413.33" stroke="#b652e9"/>
<path d="M1009.17 413.33L1010.83 428.33" stroke="#b652e9"/>
<path d="M1010.83 428.33L1013.33 413.33" stroke="#b053ef"/>
<path d="M1013.33 413.33L1015.83 411.67" stroke="#b652e9"/>
<path d="M1015.83 411.67L1017.5 433.33" stroke="#b752e8"/>
<path d="M1017.5 433.33L1020.83 420" stroke="#ae54f1"/>
<path d="M1020.83 420L1022.5 433.33" stroke="#b353eb"/>
<path d="M1022.5 433.33L1024.17 440" stroke="#ae54f1"/>
<path d="M1024.17 440L1025 506.67" stroke="#ab54f4"/>
<path d="M1025 506.67L1026.67 511.67" stroke="#9263fb"/>
<path d="M1026.67 511.67L1031.67 513.33" stroke="#9064fb"/>
<path d="M1031.67 513.33L1034.17 493.33" stroke="#9064fb"/>
<path d="M1034.17 493.33L1035.83 493.33" stroke="#9760fa"/>
<path d="M1035.83 493.33L1037.5 508.33" stroke="#9760fa"/>
<path d="M1037.5 508.33L1041.67 505" stroke="#9263fb"/>
<path d="M1041.67 505L1043.33 500" stroke="#9362fb"/>
<path d="M1043.33 500L1044.17 456.67" stroke="#9561fa"/>
<path d="M1044.17 456.67L1045.83 423.33" stroke="#a557f8"/>
<path d="M1045.83 423.33L1048.33 423.33" stroke="#b253ed"/>
<path d="M1048.33 423.33L1049.17 496.67" stroke="#b253ed"/>
<path d="M1049.17 496.67L1051.67 500" stroke="#9660fa"/>
<path d="M1051.67 500L1055.83 493.33" stroke="#9561fa"/>
<path d="M1055.83 493.33L1059.17 485" stroke="#9760fa"/>
<path d="M1059.17 485L1060.83 461.67" stroke="#9a5ef9"/>
<path d="M1060.83 461.67L1062.5 461.67" stroke="#a358f8"/>
<path d="M1062.5 461.67L1063.33 490" stroke="#a358f8"/>
<path d="M1063.33 490L1065.83 493.33" stroke="#985ffa"/>
<path d="M1065.83 493.33L1068.33 556.67" stroke="#9760fa"/>
<path d="M1068.33 556.67L1070.83 468.33" stroke="#806ffe"/>
<path d="M1070.83 468.33L1075 466.67" stroke="#a05af8"/>
<path d="M1075 466.67L1078.33 460" stroke="#a159f8"/>
<path d="M1078.33 460L1081.67 455" stroke="#a458f8"/>
<path d="M1081.67 455L1084.17 456.67" stroke="#a557f7"/>
<path d="M1084.17 456.67L1085 475" stroke="#a557f8"/>
<path d="M1085 475L1088.33 471.67" stroke="#9e5bf9"/>
<path d="M1088.33 471.67L1089.17 455" stroke="#9f5bf9"/>
<path d="M1089.17 455L1092.5 456.67" stroke="#a557f7"/>
<path d="M1092.5 456.67L1094.17 470" stroke="#a557f8"/>
<path d="M1094.17 470L1095.83 453.33" stroke="#a05af8"/>
<path d="M1095.83 453.33L1100 450" stroke="#a656f7"/>
<path d="M1100 450L1102.5 438.33" stroke="#a755f7"/>
<path d="M1102.5 438.33L1105 436.67" stroke="#ac54f3"/>
<path d="M1105 436.67L1108.33 445" stroke="#ad54f2"/>
<path d="M1108.33 445L1110.83 436.67" stroke="#a955f6"/>
<path d="M1110.83 436.67L1115 435.83" stroke="#ad54f2"/>
<path d="M1115 435.83L1117.5 438.33" stroke="#ad54f2"/>
<path d="M1117.5 438.33L1119.17 455" stroke="#ac54f3"/>
<path d="M1119.17 455L1121.67 470" stroke="#a557f7"/>
<path d="M1121.67 470L1125 456.67" stroke="#a05af8"/>
<path d="M1125 456.67L1126.67 463.33" stroke="#a557f8"/>
<path d="M1126.67 463.33L1128.33 425" stroke="#a259f8"/>
<path d="M1128.33 425L1132.5 425" stroke="#b153ed"/>
<path d="M1132.5 425L1135 418.33" stroke="#b153ed"/>
<path d="M1135 418.33L1135.83 358.33" stroke="#b453eb"/>
<path d="M1135.83 358.33L1138.33 358.33" stroke="#cc4ed2"/>
<path d="M1138.33 358.33L1140.83 415" stroke="#cc4ed2"/>
<path d="M1140.83 415L1140 336.67" stroke="#b552e9"/>
<path d="M1140 336.67L1142.5 303.33" stroke="#d54cc9"/>
<path d="M1142.5 303.33L1144.17 303.33" stroke="#e048ba"/>
<path d="M1144.17 303.33L1145.83 341.67" stroke="#e048ba"/>
<path d="M1145.83 341.67L1148.33 341.67" stroke="#d34ccb"/>
<path d="M1148.33 341.67L1149.17 303.33" stroke="#d34ccb"/>
<path d="M1149.17 303.33L1151.67 303.33" stroke="#e048ba"/>
<path d="M1151.67 303.33L1153.33 338.33" stroke="#e048ba"/>
<path d="M1153.33 338.33L1155.83 303.33" stroke="#d54cca"/>
<path d="M1155.83 303.33L1157.5 303.33" stroke="#e048ba"/>
<path d="M1157.5 303.33L1158.33 341.67" stroke="#e048ba"/>
<path d="M1158.33 341.67L1160.83 341.67" stroke="#d34ccb"/>
<path d="M1160.83 341.67L1162.5 290" stroke="#d34ccb"/>
<path d="M1162.5 290L1165.83 290" stroke="#e446b4"/>
<path d="M1165.83 290L1166.67 323.33" stroke="#e446b4"/>
<path d="M1166.67 323.33L1169.17 336.67" stroke="#da4bc3"/>
<path d="M1169.17 336.67L1170.83 316.67" stroke="#d54cc9"/>
<path d="M1170.83 316.67L1173.33 296.67" stroke="#dc4ac0"/>
<path d="M1173.33 296.67L1175.83 298.33" stroke="#e247b7"/>
<path d="M1175.83 298.33L1178.33 316.67" stroke="#e147b8"/>
<path d="M1178.33 316.67L1180 374.17" stroke="#dc4ac0"/>
<path d="M1180 374.17L1182.5 316.67" stroke="#c64fd8"/>
<path d="M1182.5 316.67L1184.17 316.67" stroke="#dc4ac0"/>
<path d="M1184.17 316.67L1185.83 336.67" stroke="#dc4ac0"/>
<path d="M1185.83 336.67L1188.33 310" stroke="#d54cc9"/>
<path d="M1188.33 310L1190.83 310" stroke="#de49bd"/>
<path d="M1190.83 310L1192.5 361.67" stroke="#de49bd"/>
<path d="M1192.5 361.67L1195.83 336.67" stroke="#cb4ed3"/>
<path d="M1195.83 336.67L1196.67 296.67" stroke="#d54cc9"/>
<path d="M1196.67 296.67L1199.17 296.67" stroke="#e247b7"/>
<path d="M1199.17 296.67L1200.83 336.67" stroke="#e247b7"/>
<path d="M1200.83 336.67L1203.33 300" stroke="#d54cc9"/>
<path d="M1203.33 300L1205 291.67" stroke="#e147b9"/>
<path d="M1205 291.67L1208.33 291.67" stroke="#e346b5"/>
<path d="M1208.33 291.67L1209.17 305" stroke="#e346b5"/>
<path d="M1209.17 305L1212.5 285" stroke="#df48bb"/>
<path d="M1212.5 285L1215.83 285" stroke="#e545b2"/>
<path d="M1215.83 285L1217.5 301.67" stroke="#e545b2"/>
<path d="M1217.5 301.67L1220 296.67" stroke="#e048b9"/>
<path d="M1220 296.67L1221.67 290" stroke="#e247b7"/>
<path d="M1221.67 290L1225 290" stroke="#e446b4"/>
<path d="M1225 290L1227.5 308.33" stroke="#e446b4"/>
<path d="M1227.5 308.33L1228.33 343.33" stroke="#df49bc"/>
<path d="M1228.33 343.33L1230.83 303.33" stroke="#d34ccc"/>
<path d="M1230.83 303.33L1233.33 303.33" stroke="#e048ba"/>
<path d="M1233.33 303.33L1235 343.33" stroke="#e048ba"/>
<path d="M1235 343.33L1237.5 343.33" stroke="#d34ccc"/>
<path d="M1237.5 343.33L1238.33 298.33" stroke="#d34ccc"/>
<path d="M1238.33 298.33L1240 290" stroke="#e147b8"/>
<path d="M1240 290L1246.67 290.83" stroke="#e446b4"/>
<path d="M1246.67 290.83L1247.5 311.67" stroke="#e346b5"/>
<path d="M1247.5 311.67L1250 296.67" stroke="#de49be"/>
<path d="M1250 296.67L1255 296.67" stroke="#e247b7"/>
<path d="M1255 296.67L1256.67 343.33" stroke="#e247b7"/>
<path d="M1256.67 343.33L1262.5 343.33" stroke="#d34ccc"/>
<path d="M1262.5 343.33L1263.33 310" stroke="#d34ccc"/>
<path d="M1263.33 310L1267.5 303.33" stroke="#de49bd"/>
<path d="M1267.5 303.33L1271.67 311.67" stroke="#e048ba"/>
<path d="M1271.67 311.67L1274.17 303.33" stroke="#de49be"/>
<path d="M1274.17 303.33L1275.83 279.17" stroke="#e048ba"/>
<path d="M1275.83 279.17L1280.83 279.17" stroke="#e644af"/>
<path d="M1280.83 279.17L1282 306.67" stroke="#e644af"/>
<path d="M1282 306.67L1283.67 351.67" stroke="#df48bc"/>
<path d="M1283.67 351.67L1285.33 423.33" stroke="#cf4dcf"/>
<path d="M1285.33 423.33L1287.17 351.67" stroke="#b253ed"/>
<path d="M1287.17 351.67L1289.5 353.33" stroke="#cf4dcf"/>
<path d="M1289.5 353.33L1292 428.33" stroke="#ce4dd0"/>
<path d="M1292 428.33L1294.17 428.33" stroke="#b053ef"/>
<path d="M1294.17 428.33L1295.83 400" stroke="#b053ef"/>
<path d="M1295.83 400L1298.33 401.67" stroke="#bc51e3"/>
<path d="M1298.33 401.67L1300.33 446.67" stroke="#bb51e4"/>
<path d="M1300.33 446.67L1302.5 446.67" stroke="#a955f6"/>
<path d="M1302.5 446.67L1305.33 436.67" stroke="#a955f6"/>
<path d="M1305.33 436.67L1306.67 406.67" stroke="#ad54f2"/>
<path d="M1306.67 406.67L1310 406.67" stroke="#b952e6"/>
<path d="M1310 406.67L1311.67 370" stroke="#b952e6"/>
<path d="M1311.67 370L1315 368.33" stroke="#c84fd7"/>
<path d="M1315 368.33L1316.67 356.67" stroke="#c84fd6"/>
<path d="M1316.67 356.67L1320 375" stroke="#cd4ed1"/>
<path d="M1320 375L1323.33 373.33" stroke="#c64fd9"/>
<path d="M1323.33 373.33L1324.17 351.67" stroke="#c64fd8"/>
<path d="M1324.17 351.67L1327.5 351.67" stroke="#cf4dcf"/>
<path d="M1327.5 351.67L1328.33 338.33" stroke="#cf4dcf"/>
<path d="M1328.33 338.33L1328.33 340" stroke="#d54cca"/>
<path d="M1328.33 340L1329.17 300" stroke="#d44cca"/>
<path d="M1329.17 300L1331.67 290" stroke="#e147b9"/>
<path d="M1331.67 290L1333.33 311.67" stroke="#e446b4"/>
<path d="M1333.33 311.67L1335.83 260.83" stroke="#de49be"/>
<path d="M1335.83 260.83L1338.33 260.83" stroke="#eb42a7"/>
<path d="M1338.33 260.83L1340 301.67" stroke="#eb42a7"/>
<path d="M1340 301.67L1342.5 278.33" stroke="#e048b9"/>
<path d="M1342.5 278.33L1345 278.33" stroke="#e744af"/>
<path d="M1345 278.33L1346.67 300" stroke="#e744af"/>
<path d="M1346.67 300L1349.17 266.67" stroke="#e147b9"/>
<path d="M1349.17 266.67L1351.67 266.67" stroke="#ea43aa"/>
<path d="M1351.67 266.67L1353.33 300" stroke="#ea43aa"/>
<path d="M1353.33 300L1355 278.33" stroke="#e147b9"/>
<path d="M1355 278.33L1356.67 300" stroke="#e744af"/>
<path d="M1356.67 300L1360 300" stroke="#e147b9"/>
<path d="M1360 300L1360.83 258.33" stroke="#e147b9"/>
<path d="M1360.83 258.33L1361.67 241.67" stroke="#ec41a6"/>
<path d="M1361.67 241.67L1364.17 241.67" stroke="#f13f9e"/>
<path d="M1364.17 241.67L1365.83 253.33" stroke="#f13f9e"/>
<path d="M1365.83 253.33L1369.17 236.67" stroke="#ee41a3"/>
<path d="M1369.17 236.67L1370.83 250" stroke="#f23e9c"/>
<path d="M1370.83 250L1371.67 193.33" stroke="#ee40a2"/>
<path d="M1371.67 193.33L1375 193.33" stroke="#fe3888"/>
<path d="M1375 193.33L1375 281.67" stroke="#fe3888"/>
<path d="M1375 281.67L1375.83 241.67" stroke="#e645b0"/>
<path d="M1375.83 241.67L1380 228.33" stroke="#f13f9e"/>
<path d="M1380 228.33L1381.67 256.67" stroke="#f43d98"/>
<path d="M1381.67 256.67L1384.17 238.33" stroke="#ed41a5"/>
<path d="M1384.17 238.33L1386.67 236.67" stroke="#f23f9d"/>
<path d="M1386.67 236.67L1387.5 205" stroke="#f23e9c"/>
<path d="M1387.5 205L1390 205" stroke="#fb3a8d"/>
<path d="M1390 205L1390.83 245" stroke="#fb3a8d"/>
<path d="M1390.83 245L1392.5 236.67" stroke="#f03fa0"/>
<path d="M1392.5 236.67L1395 263.33" stroke="#f23e9c"/>
<path d="M1395 263.33L1398.33 260" stroke="#eb42a8"/>
<path d="M1398.33 260L1400 276.67" stroke="#ec42a6"/>
<path d="M1400 276.67L1402.5 266.67" stroke="#e744ae"/>
<path d="M1402.5 266.67L1405 293.33" stroke="#ea43aa"/>
<path d="M1405 293.33L1407.5 286.67" stroke="#e346b6"/>
<path d="M1407.5 286.67L1409.17 245" stroke="#e445b3"/>
<path d="M1409.17 245L1411.67 235" stroke="#f03fa0"/>
<path d="M1411.67 235L1414.17 253.33" stroke="#f33e9b"/>
<path d="M1414.17 253.33L1416.67 260" stroke="#ee41a3"/>
<path d="M1416.67 260L1418.33 283.33" stroke="#ec42a6"/>
<path d="M1418.33 283.33L1420 260" stroke="#e545b1"/>
<path d="M1420 260L1421.67 308.33" stroke="#ec42a6"/>
<path d="M1421.67 308.33L1425.83 311.67" stroke="#df49bc"/>
<path d="M1425.83 311.67L1426.67 260" stroke="#de49be"/>
<path d="M1426.67 260L1429.17 260" stroke="#ec42a6"/>
<path d="M1429.17 260L1430 280" stroke="#ec42a6"/>
<path d="M1430 280L1432.5 254.17" stroke="#e645b0"/>
<path d="M1432.5 254.17L1435.83 254.17" stroke="#ed41a4"/>
<path d="M1435.83 254.17L1436.67 275" stroke="#ed41a4"/>
<path d="M1436.67 275L1438.33 260" stroke="#e844ad"/>
<path d="M1438.33 260L1440.83 260" stroke="#ec42a6"/>
<path d="M1440.83 260L1441.67 300" stroke="#ec42a6"/>
<path d="M1441.67 300L1444.17 290" stroke="#e147b9"/>
<path d="M1444.17 290L1445.83 341.67" stroke="#e446b4"/>
<path d="M1445.83 341.67L1447.5 333.33" stroke="#d34ccb"/>
<path d="M1447.5 333.33L1449.17 390" stroke="#d74cc7"/>
<path d="M1449.17 390L1451.67 390" stroke="#c050df"/>
<path d="M1451.67 390L1452.5 333.33" stroke="#c050df"/>
<path d="M1452.5 333.33L1454.17 300" stroke="#d74cc7"/>
<path d="M1454.17 300L1456.67 295.83" stroke="#e147b9"/>
<path d="M1456.67 295.83L1459.17 303.33" stroke="#e247b7"/>
<path d="M1459.17 303.33L1463.33 303.33" stroke="#e048ba"/>
<path d="M1463.33 303.33L1465 333.33" stroke="#e048ba"/>
<path d="M1465 333.33L1467.5 343.33" stroke="#d74cc7"/>
<path d="M1467.5 343.33L1470 331.67" stroke="#d34ccc"/>
<path d="M1470 331.67L1472 333.33" stroke="#d74cc7"/>
<path d="M1472 333.33L1472.5 410.83" stroke="#d74cc7"/>
<path d="M1472.5 410.83L1473.67 477.5" stroke="#b752e8"/>
<path d="M1473.67 477.5L1475.83 446.67" stroke="#9d5cf9"/>
<path d="M1475.83 446.67L1477.5 330" stroke="#a955f6"/>
<path d="M1477.5 330L1480 308.33" stroke="#d84bc6"/>
<path d="M1480 308.33L1482.5 310" stroke="#df49bc"/>
<path d="M1482.5 310L1485 338.33" stroke="#de49bd"/>
<path d="M1485 338.33L1486.33 403.33" stroke="#d54cca"/>
<path d="M1486.33 403.33L1488 340" stroke="#ba51e4"/>
<path d="M1488 340L1489.67 340" stroke="#d44cca"/>
<path d="M1489.67 340L1490.67 415.83" stroke="#d44cca"/>
<path d="M1490.67 415.83L1493 395" stroke="#b552ea"/>
<path d="M1493 395L1495 346.67" stroke="#be51e1"/>
<path d="M1495 346.67L1498.33 346.67" stroke="#d14dcd"/>
<path d="M1498.33 346.67L1499.17 290" stroke="#d14dcd"/>
<path d="M1499.17 290L1502.5 290" stroke="#e446b4"/>
<path d="M1502.5 290L1505 311.67" stroke="#e446b4"/>
<path d="M1505 311.67L1506.67 278.33" stroke="#de49be"/>
<path d="M1506.67 278.33L1509.17 275" stroke="#e744af"/>
<path d="M1509.17 275L1511.67 285" stroke="#e844ad"/>
<path d="M1511.67 285L1515 278.33" stroke="#e545b2"/>
<path d="M1515 278.33L1518.33 290" stroke="#e744af"/>
<path d="M1518.33 290L1520 301.67" stroke="#e446b4"/>
<path d="M1520 301.67L1524.17 295.83" stroke="#e048b9"/>
<path d="M1524.17 295.83L1528.33 298.33" stroke="#e247b7"/>
<path d="M1528.33 298.33L1533.33 291.67" stroke="#e147b8"/>
<path d="M1533.33 291.67L1535 265.83" stroke="#e346b5"/>
<path d="M1535 265.83L1537.5 265.83" stroke="#ea42a9"/>
<path d="M1537.5 265.83L1539.17 298.33" stroke="#ea42a9"/>
<path d="M1539.17 298.33L1541.67 285" stroke="#e147b8"/>
<path d="M1541.67 285L1544.17 300" stroke="#e545b2"/>
<path d="M1544.17 300L1546.67 311.67" stroke="#e147b9"/>
<path d="M1546.67 311.67L1549.17 290" stroke="#de49be"/>
<path d="M1549.17 290L1551.67 306.67" stroke="#e446b4"/>
<path d="M1551.67 306.67L1553.33 290" stroke="#df48bc"/>
<path d="M1553.33 290L1557.5 290" stroke="#e446b4"/>
<path d="M1557.5 290L1558.33 350" stroke="#e446b4"/>
<path d="M1558.33 350L1560 373.33" stroke="#d04dce"/>
<path d="M1560 373.33L1562.5 356.67" stroke="#c64fd8"/>
<path d="M1562.5 356.67L1563.33 405" stroke="#cd4ed1"/>
<path d="M1563.33 405L1565.83 406.67" stroke="#ba51e5"/>
<path d="M1565.83 406.67L1566.67 428.33" stroke="#b952e6"/>
<path d="M1566.67 428.33L1568 556.67" stroke="#b053ef"/>
<path d="M1568 556.67L1569.67 556.67" stroke="#806ffe"/>
<path d="M1569.67 556.67L1571 456.67" stroke="#806ffe"/>
<path d="M1571 456.67L1572.33 496.67" stroke="#a557f8"/>
<path d="M1572.33 496.67L1573.67 556.67" stroke="#9660fa"/>
<path d="M1573.67 556.67L1575.33 556.67" stroke="#806ffe"/>
<path d="M1575.33 556.67L1577 453.33" stroke="#806ffe"/>
<path d="M1577 453.33L1579 418.33" stroke="#a656f7"/>
<path d="M1579 418.33L1582.5 435" stroke="#b453eb"/>
<path d="M1582.5 435L1584.17 471.67" stroke="#ad54f2"/>
<path d="M1584.17 471.67L1586 563.33" stroke="#9f5bf9"/>
<path d="M1586 563.33L1585 563.33" stroke="#7d70fe"/>
<path d="M1585 563.33L1586.67 580" stroke="#7d70fe"/>
<path d="M1586.67 580L1589.17 580" stroke="#7673ff"/>
<path d="M1589.17 580L1590.83 565" stroke="#7673ff"/>
<path d="M1590.83 565L1593.33 576.67" stroke="#7c70ff"/>
<path d="M1593.33 576.67L1595.83 565" stroke="#7873ff"/>
<path d="M1595.83 565L1597.5 586.67" stroke="#7c70ff"/>
<path d="M1597.5 586.67L1600 586.67" stroke="#7374ff"/>
<path d="M1600 586.67L1600.83 540" stroke="#7374ff"/>
<path d="M1600.83 540L1600.83 540" stroke="#866bfd"/>
<path d="M1600.83 540L1602.5 423.33" stroke="#866bfd"/>
<path d="M1602.5 423.33L1604.17 345" stroke="#b253ed"/>
<path d="M1604.17 345L1605.83 320.83" stroke="#d24dcc"/>
<path d="M1605.83 320.83L1608.33 320.83" stroke="#db4ac2"/>
<path d="M1608.33 320.83L1609.17 373.33" stroke="#db4ac2"/>
<path d="M1609.17 373.33L1610.83 368.33" stroke="#c64fd8"/>
<path d="M1610.83 368.33L1611.67 290" stroke="#c84fd6"/>
<path d="M1611.67 290L1614.17 288.33" stroke="#e446b4"/>
<path d="M1614.17 288.33L1615.83 308.33" stroke="#e446b3"/>
<path d="M1615.83 308.33L1618.33 313.33" stroke="#df49bc"/>
<path d="M1618.33 313.33L1621.67 326.67" stroke="#dd49bf"/>
<path d="M1621.67 326.67L1623.33 303.33" stroke="#d94bc5"/>
<path d="M1623.33 303.33L1625.83 290" stroke="#e048ba"/>
<path d="M1625.83 290L1629.17 290" stroke="#e446b4"/>
<path d="M1629.17 290L1630.33 331.67" stroke="#e446b4"/>
<path d="M1630.33 331.67L1632 422.5" stroke="#d74cc7"/>
<path d="M1632 422.5L1635 395" stroke="#b253ec"/>
<path d="M1635 395L1636.67 395" stroke="#be51e1"/>
<path d="M1636.67 395L1636.67 514.17" stroke="#be51e1"/>
<path d="M1636.67 514.17L1640 533.33" stroke="#8f65fb"/>
<path d="M1640 533.33L1642.5 563.33" stroke="#8869fd"/>
<path d="M1642.5 563.33L1642 580" stroke="#7d70fe"/>
<path d="M1642 580L1642.67 635" stroke="#7673ff"/>
<path d="M1642.67 635L1643.67 635" stroke="#5d7bff"/>
<path d="M1643.67 635L1646.67 448.33" stroke="#5d7bff"/>
<path d="M1646.67 448.33L1649.17 496.67" stroke="#a855f7"/>
<path d="M1649.17 496.67L1651.67 501.67" stroke="#9660fa"/>
<path d="M1651.67 501.67L1650.83 586.67" stroke="#9462fa"/>
<path d="M1650.83 586.67L1653.33 586.67" stroke="#7374ff"/>
<path d="M1653.33 586.67L1654.17 551.67" stroke="#7374ff"/>
<path d="M1654.17 551.67L1656.67 560" stroke="#816dfe"/>
<path d="M1656.67 560L1658.33 586.67" stroke="#7e6ffe"/>
<path d="M1658.33 586.67L1662.5 586.67" stroke="#7374ff"/>
<path d="M1662.5 586.67L1663.33 551.67" stroke="#7374ff"/>
<path d="M1663.33 551.67L1665 551.67" stroke="#816dfe"/>
<path d="M1665 551.67L1665.83 580" stroke="#816dfe"/>
<path d="M1665.83 580L1668.33 580" stroke="#7673ff"/>
<path d="M1668.33 580L1669.17 535" stroke="#7673ff"/>
<path d="M1669.17 535L1668.33 503.33" stroke="#8869fd"/>
<path d="M1668.33 503.33L1670 531.67" stroke="#9362fb"/>
<path d="M1670 531.67L1672.5 400" stroke="#8969fc"/>
<path d="M1672.5 400L1675.83 400" stroke="#bc51e3"/>
<path d="M1675.83 400L1677.5 405" stroke="#bc51e3"/>
<path d="M1677.5 405L1679.17 446.67" stroke="#ba51e5"/>
<path d="M1679.17 446.67L1680 556.67" stroke="#a955f6"/>
<path d="M1680 556.67L1681.67 535" stroke="#806ffe"/>
<path d="M1681.67 535L1685.33 535" stroke="#8869fd"/>
<path d="M1685.33 535L1686.67 563.33" stroke="#8869fd"/>
<path d="M1686.67 563.33L1688.33 581.67" stroke="#7d70fe"/>
<path d="M1688.33 581.67L1691.67 565" stroke="#7573ff"/>
<path d="M1691.67 565L1693.33 583.33" stroke="#7c70ff"/>
<path d="M1693.33 583.33L1695 605" stroke="#7574ff"/>
<path d="M1695 605L1697.5 605" stroke="#6a77ff"/>
<path d="M1697.5 605L1699.17 580" stroke="#6a77ff"/>
<path d="M1699.17 580L1700 565" stroke="#7673ff"/>
<path d="M1700 565L1701.67 565" stroke="#7c70ff"/>
<path d="M1701.67 565L1702.5 580" stroke="#7c70ff"/>
</g>
<g opacity="0.999">
<g font-size="25" fill="#474e59" text-anchor="end">
<text x="165.3" y="86.9">3</text>
<text x="165.3" y="210.2">2</text>
<text x="165.3" y="333.5">1</text>
<text x="165.3" y="456.8">0</text>
<text x="165.3" y="580">-1</text>
<text x="165.3" y="703.3">-2</text>
<text x="165.3" y="826.6">-3</text>
</g>
<g font-size="25" fill="#474e59" text-anchor="middle">
<text x="464.3" y="890">Oct 2022</text>
<text x="781.9" y="890">Apr 2023</text>
<text x="1100.9" y="890">Oct 2023</text>
<text x="1420" y="890">Apr 2024</text>
</g>
<text transform="translate(91 448.5) rotate(-90)" font-size="30.56" font-weight="bold" fill="#373c49" text-anchor="middle">Price &amp; Sentiment Momentum (Z-Score)</text>
<rect x="571" y="955.2" width="27.7" height="27.5" fill="#9f9fc6"/>
<text x="619" y="978.6" font-size="27.78" fill="#272a37">Panic</text>
<rect x="714.2" y="955.2" width="27.7" height="27.5" fill="#b1b1d2"/>
<text x="762.7" y="978.6" font-size="27.78" fill="#272a37">Fear</text>
<rect x="845.3" y="955.2" width="27.7" height="27.5" fill="#cdd2d6"/>
<text x="892.9" y="978.6" font-size="27.78" fill="#272a37">Neutral</text>
<rect x="1018.4" y="955.2" width="27.7" height="27.5" fill="#ffc4ba"/>
<text x="1067.1" y="978.6" font-size="27.78" fill="#272a37">Greed</text>
<rect x="1173.4" y="955.2" width="27.7" height="27.5" fill="#ffa5a3"/>
<text x="1221.9" y="978.6" font-size="27.78" fill="#272a37">Euphoria</text>
<text x="182.5" y="1066" font-size="27.78" fill="#6e7781">Regime Signal: Fear as of 2024-09-09</text>
</g>
</svg></body></html>
